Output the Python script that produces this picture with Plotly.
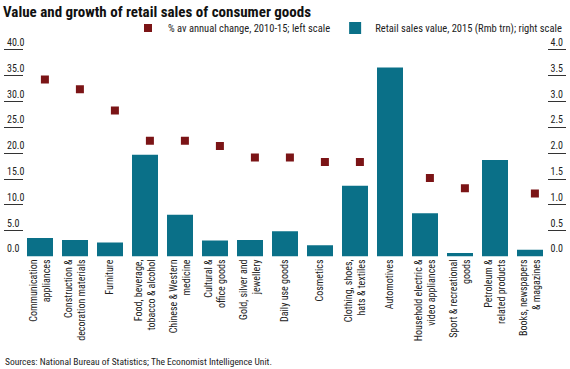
import numpy as np
import plotly.graph_objects as go

categories = [
    "Communication<br>appliances",
    "Construction &<br>decoration materials",
    "Furniture",
    "Food, beverage,<br>tobacco & alcohol",
    "Chinese & Western<br>medicine",
    "Cultural &<br>office goods",
    "Gold, silver and<br>jewellery",
    "Daily use goods",
    "Cosmetics",
    "Clothing, shoes,<br>hats & textiles",
    "Automotives",
    "Household electric &<br>video appliances",
    "Sport & recreational<br>goods",
    "Petroleum &<br>related products",
    "Books, newspapers<br>& magazines",
]
# % av annual change, 2010-15 (left scale)
growth = [34.3, 32.4, 28.3, 22.4, 22.4, 21.4, 19.2, 19.2, 18.3, 18.3, 17.3, 15.2, 13.2, 12.2, 12.2]
# Retail sales value, 2015, Rmb trn (right scale)
sales = [0.36, 0.32, 0.27, 1.97, 0.81, 0.31, 0.32, 0.49, 0.22, 1.37, 3.66, 0.84, 0.07, 1.87, 0.13]

left_ticks = [0, 5, 10, 15, 20, 25, 30, 35, 40]
right_ticks = [0, 0.5, 1.0, 1.5, 2.0, 2.5, 3.0, 3.5, 4.0]

W, H = 570, 369
FONT = "Roboto Condensed, DejaVu Sans Condensed, Liberation Sans Narrow, Lato, sans-serif"
RED = "#7b1416"
TEAL = "#0a7088"
TXT = "#222222"

idx = np.arange(len(categories))
marker_offset = 0.14

# pixel scale: 0 at y=256.5, 40 at y=50
px_per_unit = (256.5 - 50) / 40
top_val = 44.5
y_dom = [1 - 256.5 / H, 1 - (256.5 - top_val * px_per_unit) / H]

fig = go.Figure()
fig.add_trace(go.Scatter(
    x=idx + marker_offset, y=growth, mode="markers", yaxis="y",
    name="% av annual change, 2010-15; left scale",
    marker=dict(symbol="square", size=8, color=RED),
))
fig.add_trace(go.Bar(
    x=idx, y=sales, yaxis="y2", width=0.743,
    name="Retail sales value, 2015 (Rmb trn); right scale",
    marker=dict(color=TEAL, line=dict(width=0)),
))

fig.update_layout(
    width=W, height=H,
    margin=dict(l=0, r=0, t=0, b=0),
    paper_bgcolor="white", plot_bgcolor="white",
    font=dict(family=FONT, size=10, color=TXT),
    title=dict(text="<b>Value and growth of retail sales of consumer goods</b>",
               x=3 / W, xanchor="left", xref="paper",
               y=1 - 12 / H, yanchor="middle", yref="container",
               font=dict(family=FONT, size=15, color="#111111")),
    showlegend=True,
    legend=dict(orientation="h", x=1 - 3 / W, xanchor="right",
                y=1 - 28 / H, yanchor="middle",
                font=dict(family=FONT, size=10.5, color=TXT),
                itemwidth=30, bgcolor="rgba(0,0,0,0)"),
    xaxis=dict(domain=[22.5 / W, 547.5 / W], range=[-0.5, len(categories) - 0.5],
               tickmode="array", tickvals=idx, ticktext=categories,
               tickangle=-90, showgrid=False, zeroline=False, showline=False,
               ticks="", tickfont=dict(family=FONT, size=10, color=TXT),
               anchor="y"),
    yaxis=dict(domain=y_dom, range=[0, top_val], tickmode="array", tickvals=left_ticks,
               ticktext=[f"{v:.1f}" for v in left_ticks],
               anchor="free", position=3 / W, side="left",
               ticklabelposition="inside top", ticks="inside", ticklen=19,
               tickcolor="#333333", tickwidth=1,
               showgrid=False, zeroline=False, showline=False,
               tickfont=dict(family=FONT, size=10, color=TXT)),
    yaxis2=dict(domain=y_dom, range=[0, top_val / 10], tickmode="array", tickvals=right_ticks,
                ticktext=[f"{v:.1f}" for v in right_ticks],
                overlaying="y", anchor="free", position=566 / W, side="right",
                ticklabelposition="inside top", ticks="inside", ticklen=18,
                tickcolor="#333333", tickwidth=1,
                showgrid=False, zeroline=False, showline=False,
                tickfont=dict(family=FONT, size=10, color=TXT)),
    annotations=[dict(text="Sources: National Bureau of Statistics; The Economist Intelligence Unit.",
                      x=3 / W, y=1 - 361 / H, xref="paper", yref="paper",
                      xanchor="left", yanchor="middle", showarrow=False,
                      font=dict(family=FONT, size=9.5, color=TXT))],
)

fig.write_html("out.html", config={"displayModeBar": False},
               post_script="document.body.style.margin='0';document.body.style.padding='0';")
